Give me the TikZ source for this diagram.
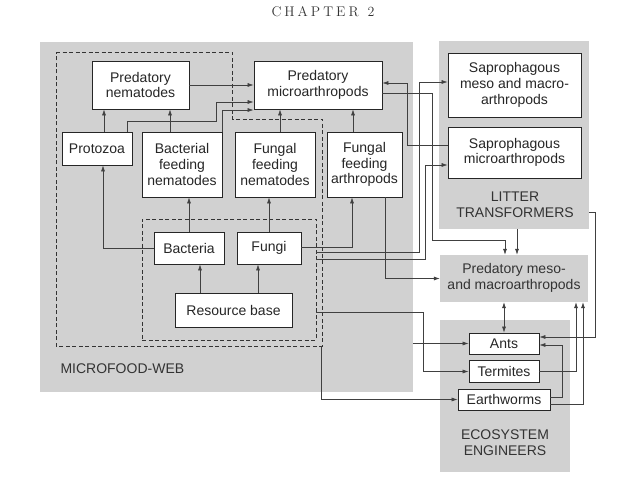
\documentclass[tikz,border=0pt]{standalone}
\usepackage{fontspec}
\usepackage{tikz}
\usetikzlibrary{arrows.meta, positioning}
\newfontfamily\labelfont{Liberation Sans}

\begin{document}
\begin{tikzpicture}[
        x=1pt, y=-1pt,
        node distance=28pt,
        panel/.style={rectangle, fill=black!18, draw=none, inner sep=0pt},
        group/.style={rectangle, draw=black!80, dash pattern=on 4pt off 2.5pt, line width=0.6pt, inner sep=0pt},
        taxon/.style={rectangle, draw=black!85, fill=white, line width=0.8pt, align=center, inner sep=1pt,
                      text=black!85, font={\labelfont\fontsize{14pt}{15.7pt}\selectfont}},
        paneltext/.style={align=center, text=black!80, font={\labelfont\fontsize{14pt}{15.7pt}\selectfont}},
        arrow/.style={line width=0.6pt, draw=black!75, -{Latex[length=6pt, width=4pt]}},
        twoway/.style={line width=0.6pt, draw=black!75, {Latex[length=6pt, width=4pt]}-{Latex[length=6pt, width=4pt]}}
    ]
        \useasboundingbox (0,0) rectangle (632,478);

        \node[font=\fontsize{14pt}{16pt}\selectfont, text=black!80] (chapter) at (323,12)
            {C\kern3ptH\kern3ptA\kern3ptP\kern3ptT\kern3ptE\kern3ptR\kern9pt2};

        % grey panels
        \node[panel, minimum width=373pt, minimum height=350pt] (mfwpanel) at (226.5,217) {};
        \node[panel, minimum width=150pt, minimum height=188pt] (litterpanel) at (514,135) {};
        \node[panel, minimum width=148pt, minimum height=47pt] (predmesopanel) at (514,278.5) {};
        \node[panel, minimum width=130pt, minimum height=152pt] (ecopanel) at (505,396) {};

        % dashed groups
        \draw[group] (56,52) -- (232,52) -- (232,119) -- (322,119) -- (322,346) -- (56,346) -- cycle;
        \coordinate (mfwcorner) at (321,346);
        \node[group, minimum width=174pt, minimum height=121pt] (microbes) at (229,279.5) {};

        \node[taxon, minimum width=97pt, minimum height=48pt] (prednem) at (140.5,85) {Predatory\\nematodes};
        \node[taxon, right of=prednem, xshift=149.5pt, minimum width=128pt, minimum height=48pt] (predmicro) {Predatory\\microarthropods};

        \node[taxon, minimum width=80pt, minimum height=65pt] (bactnem) at (182,164.5) {Bacterial\\feeding\\nematodes};
        \node[taxon, left of=bactnem, xshift=-57pt, yshift=16pt, minimum width=70pt, minimum height=33pt] (protozoa) {Protozoa};
        \node[taxon, right of=bactnem, xshift=65pt, minimum width=80pt, minimum height=65pt] (fungnem) {Fungal\\feeding\\nematodes};
        \node[taxon, right of=fungnem, xshift=61.5pt, minimum width=75pt, minimum height=65pt] (fungarth) {Fungal\\feeding\\arthropods};

        \node[taxon, minimum width=70pt, minimum height=32pt] (bacteria) at (189,248) {Bacteria};
        \node[taxon, right of=bacteria, xshift=52pt, minimum width=64pt, minimum height=32pt] (fungi) {Fungi};
        \node[taxon, below of=bacteria, xshift=44.5pt, yshift=-34pt, minimum width=117pt, minimum height=34pt] (resource) {Resource base};

        \node[taxon, minimum width=133pt, minimum height=64pt] (sapmeso) at (514.5,85) {Saprophagous\\meso and macro-\\arthropods};
        \node[taxon, below of=sapmeso, yshift=-39.5pt, minimum width=133pt, minimum height=51pt] (sapmicro) {Saprophagous\\microarthropods};

        \node[taxon, minimum width=70pt, minimum height=21pt] (ants) at (504,343.5) {Ants};
        \node[taxon, below of=ants, minimum width=70pt, minimum height=22pt] (termites) {Termites};
        \node[taxon, below of=termites, minimum width=92pt, minimum height=21pt] (earthworms) {Earthworms};

        \node[paneltext, anchor=west] (mfwlabel) at (57,369) {MICROFOOD-WEB};
        \node[paneltext] (litterlabel) at (515,205) {LITTER\\TRANSFORMERS};
        \node[paneltext] (predmeso) at (514,278) {Predatory meso-\\and macroarthropods};
        \node[paneltext] (ecolabel) at (505,442.5) {ECOSYSTEM\\ENGINEERS};

        % microfood-web
        \draw[arrow] ([xshift=7pt]protozoa.north) -- ([xshift=7pt]protozoa.north |- prednem.south);
        \draw[arrow] ([xshift=-12pt]bactnem.north) -- ([xshift=-12pt]bactnem.north |- prednem.south);
        \draw[arrow] (bacteria.west) -| ([xshift=6pt]protozoa.south);
        \draw[arrow] (bacteria.north) -- (bacteria.north |- bactnem.south);
        \draw[arrow] ([xshift=-33.5pt]resource.north) -- ([xshift=-33.5pt]resource.north |- bacteria.south);
        \draw[arrow] ([xshift=24.5pt]resource.north) -- ([xshift=24.5pt]resource.north |- fungi.south);
        \draw[arrow] (fungi.north) -- (fungi.north |- fungnem.south);
        \draw[arrow] ([yshift=1pt]fungi.east) -| ([xshift=-12.5pt]fungarth.south);
        \draw[arrow] ([xshift=5pt]fungnem.north) -- ([xshift=5pt]fungnem.north |- predmicro.south);
        \draw[arrow] ([xshift=-11.5pt]fungarth.north) -- ([xshift=-11.5pt]fungarth.north |- predmicro.south);
        \draw[arrow] (prednem.east) -- (predmicro.west);
        \draw[arrow] ([xshift=30pt]protozoa.north) -- ++(0,-10) -- ++(89,0) |- ([yshift=-17pt]predmicro.west);
        \draw[arrow] (bactnem.north east) |- ([yshift=-25pt]predmicro.west);

        % litter transformers
        \draw[arrow] ([yshift=7.5pt]sapmicro.west) -- ++(-40,0) |- ([yshift=2pt]predmicro.east);
        \draw[arrow] ([yshift=-34pt]microbes.north east) -- ++(103,0) |- ([yshift=3pt]sapmeso.west);
        \draw[arrow] ([yshift=-41pt]microbes.north east) -- ++(109,0) |- ([yshift=-12.5pt]sapmicro.west);

        % predatory meso- and macroarthropods
        \draw[arrow] ([yshift=-8pt]predmicro.east) -- ++(50,0) -- ++(0,147) -| ([xshift=-9pt]predmesopanel.north);
        \draw[arrow] ([xshift=3pt]litterpanel.south) -- ([xshift=3pt]predmesopanel.north);
        \draw[arrow] ([xshift=20.5pt]fungarth.south) |- (predmesopanel.west);
        \draw[twoway] ([xshift=-10pt]predmesopanel.south) -- (ants.north);
        \draw[arrow] (termites.east) -| ([xshift=62pt]predmesopanel.south);
        \draw[arrow] ([yshift=-4.5pt]earthworms.east) -| ([xshift=69pt]predmesopanel.south);

        % ecosystem engineers
        \draw[arrow] ([yshift=-94pt]microbes.north east) -- ++(107,0) |- (termites.west);
        \draw[arrow] (mfwpanel.east |- ants.west) -- (ants.west);
        \draw[arrow] (mfwcorner) |- (earthworms.west);
        \draw[arrow] ([yshift=2.5pt]earthworms.east) -- ++(12,0) |- ([yshift=-1.5pt]ants.east);
        \draw[arrow] ([yshift=-77pt]litterpanel.east) -- ++(6,0) |- ([yshift=6.5pt]ants.east);
    \end{tikzpicture}
\end{document}
